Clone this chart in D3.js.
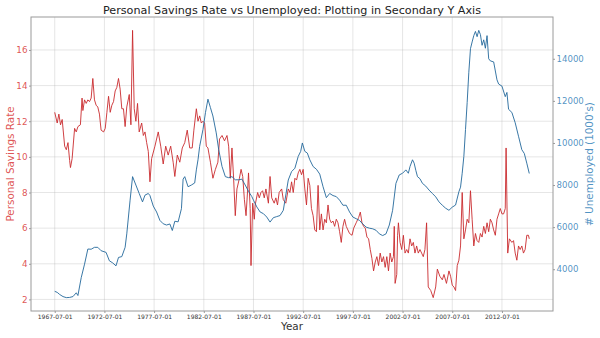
<!DOCTYPE html>
<html>
<head>
<meta charset="utf-8">
<script src="https://cdn.jsdelivr.net/npm/d3@7"></script>
<style>
  html, body { margin: 0; padding: 0; background: #fff; }
  svg { display: block; font-family: "DejaVu Sans", sans-serif; }
</style>
</head>
<body>
<svg id="chart" width="600" height="338"></svg>
<script>
// ---------------- data ----------------
const savingsDates = ["1967-07","1967-10","1967-12","1968-02","1968-04","1968-07","1968-09","1968-11","1969-01","1969-02","1969-04","1969-07","1969-09","1969-11","1970-02","1970-04","1970-05","1970-07","1970-09","1970-11","1971-01","1971-03","1971-05","1971-07","1971-09","1971-11","1972-01","1972-03","1972-06","1972-08","1972-10","1972-12","1973-02","1973-04","1973-06","1973-08","1973-10","1973-12","1974-02","1974-04","1974-06","1974-08","1974-10","1975-01","1975-03","1975-05","1975-07","1975-09","1975-11","1976-01","1976-04","1976-06","1976-08","1976-10","1976-12","1977-02","1977-04","1977-08","1977-12","1978-03","1978-06","1978-09","1978-12","1979-03","1979-06","1979-08","1979-11","1980-02","1980-05","1980-08","1980-11","1981-02","1981-05","1981-07","1981-10","1981-12","1982-02","1982-04","1982-06","1982-08","1982-10","1982-12","1983-03","1983-06","1983-09","1983-12","1984-02","1984-05","1984-08","1984-11","1985-01","1985-03","1985-05","1985-07","1985-09","1985-11","1986-02","1986-04","1986-06","1986-08","1986-10","1986-12","1987-01","1987-03","1987-04","1987-06","1987-08","1987-09","1987-12","1988-02","1988-04","1988-06","1988-08","1988-10","1989-01","1989-03","1989-05","1989-08","1989-10","1989-12","1990-02","1990-05","1990-07","1990-10","1991-01","1991-03","1991-05","1991-07","1991-09","1991-11","1992-01","1992-03","1992-05","1992-07","1992-09","1992-11","1993-01","1993-03","1993-05","1993-07","1993-09","1993-11","1994-01","1994-03","1994-05","1994-07","1994-09","1994-11","1995-01","1995-03","1995-05","1995-07","1995-09","1995-11","1996-01","1996-03","1996-05","1996-07","1996-09","1996-11","1997-03","1997-06","1997-08","1997-11","1998-02","1998-04","1998-06","1998-08","1998-10","1998-12","1999-02","1999-04","1999-06","1999-08","1999-10","1999-12","2000-02","2000-04","2000-06","2000-08","2000-10","2000-12","2001-02","2001-04","2001-06","2001-08","2001-09","2001-10","2001-12","2002-01","2002-02","2002-04","2002-06","2002-08","2002-10","2002-12","2003-02","2003-04","2003-06","2003-08","2003-10","2003-12","2004-02","2004-04","2004-06","2004-08","2004-10","2004-12","2005-02","2005-05","2005-08","2005-11","2006-01","2006-04","2006-07","2006-09","2006-12","2007-03","2007-05","2007-07","2007-09","2007-11","2008-01","2008-03","2008-05","2008-07","2008-09","2008-11","2009-01","2009-03","2009-05","2009-07","2009-09","2009-11","2010-01","2010-03","2010-05","2010-07","2010-09","2010-11","2011-01","2011-03","2011-05","2011-07","2011-09","2011-11","2012-01","2012-03","2012-05","2012-07","2012-09","2012-11","2012-12","2013-02","2013-04","2013-07","2013-09","2013-11","2014-01","2014-03","2014-05","2014-07","2014-09","2014-11","2015-01","2015-03","2015-04"];
const savingsRate = [12.5,11.9,12.4,11.8,12.1,10.6,10.4,10.8,9.8,9.4,9.9,11.6,11.4,11.7,11.8,13.3,12.6,13.2,13.0,13.2,13.1,13.3,14.4,13.2,12.9,12.8,12.4,11.5,11.4,11.6,12.5,13.4,12.5,12.9,13.1,13.7,13.9,14.4,13.8,12.7,12.7,11.7,12.8,13.5,11.8,17.1,12.7,12.0,13.0,11.4,11.9,11.2,11.4,10.8,10.3,8.6,9.9,10.6,11.4,10.6,9.6,10.6,10.1,10.6,9.7,8.9,10.1,9.7,10.5,10.8,11.5,10.5,10.5,11.5,12.7,12.0,12.3,11.9,12.0,11.9,10.6,10.5,9.7,8.8,9.3,9.7,11.0,11.2,10.9,11.2,10.6,8.8,10.5,8.8,6.7,8.2,8.8,9.3,8.9,7.6,6.7,8.2,9.1,7.1,3.9,7.4,6.5,7.3,8.0,7.7,8.0,8.1,7.7,8.2,7.4,8.9,7.7,7.4,7.7,7.3,8.0,8.2,7.6,7.4,8.2,8.0,8.6,8.0,8.8,8.7,9.1,9.3,9.0,9.3,8.2,7.3,8.8,8.4,7.1,6.7,5.9,5.8,8.4,5.9,6.8,5.9,6.5,6.3,7.3,6.5,6.3,6.4,6.1,6.5,6.3,5.8,5.2,6.1,6.5,6.1,5.7,5.6,6.0,6.3,6.6,6.9,6.3,6.1,6.0,5.5,5.4,4.8,4.3,3.6,4.1,4.4,3.9,4.6,4.1,4.4,3.8,4.4,3.6,4.6,4.1,4.4,6.1,2.9,3.4,5.6,6.3,5.2,4.8,5.6,4.6,4.8,4.6,5.4,5.0,5.2,4.6,5.0,4.6,4.8,4.6,4.4,4.8,6.3,2.7,2.5,2.1,2.7,3.7,3.3,3.1,3.4,2.9,3.6,3.3,2.8,2.7,2.5,3.9,4.2,5.0,8.0,5.4,5.9,6.5,6.3,8.1,6.5,5.0,5.7,5.3,5.2,5.7,5.5,6.1,5.7,6.3,5.8,6.5,6.3,5.9,5.6,6.5,6.8,7.1,6.8,6.8,7.1,10.5,4.6,5.4,5.2,5.3,4.6,4.2,5.0,4.8,5.0,4.6,4.8,5.6,5.6,5.4];

const unemployDates = ["1967-07","1967-10","1968-01","1968-05","1968-09","1969-01","1969-05","1969-09","1969-11","1970-03","1970-07","1970-11","1971-03","1971-07","1971-11","1972-03","1972-09","1973-01","1973-05","1973-09","1973-12","1974-04","1974-08","1974-10","1975-02","1975-05","1975-09","1976-01","1976-05","1976-08","1976-12","1977-02","1977-06","1977-10","1978-02","1978-06","1978-10","1979-02","1979-05","1979-08","1979-12","1980-04","1980-06","1980-08","1980-12","1981-04","1981-08","1981-10","1981-12","1982-02","1982-06","1982-09","1982-12","1983-03","1983-06","1983-10","1984-01","1984-05","1984-09","1985-01","1985-05","1985-09","1986-01","1986-05","1986-09","1987-01","1987-05","1987-07","1987-11","1988-03","1988-07","1988-11","1989-03","1989-07","1989-11","1990-03","1990-07","1990-09","1991-01","1991-05","1991-09","1992-01","1992-04","1992-06","1992-09","1992-12","1993-03","1993-07","1993-11","1994-03","1994-07","1994-11","1995-03","1995-07","1995-11","1996-03","1996-07","1996-11","1997-03","1997-07","1997-11","1998-03","1998-07","1998-11","1999-03","1999-07","1999-11","2000-03","2000-07","2000-11","2001-03","2001-07","2001-11","2002-03","2002-07","2002-11","2003-02","2003-04","2003-07","2003-09","2003-11","2004-01","2004-04","2004-07","2004-11","2005-03","2005-07","2005-11","2006-03","2006-07","2006-11","2007-03","2007-07","2007-11","2008-03","2008-05","2008-07","2008-09","2008-11","2009-01","2009-03","2009-05","2009-07","2009-09","2009-11","2010-01","2010-03","2010-05","2010-07","2010-09","2010-11","2011-01","2011-03","2011-05","2011-09","2012-01","2012-03","2012-07","2012-11","2013-01","2013-03","2013-07","2013-11","2014-03","2014-07","2014-10","2015-01","2015-04"];
const unemployed = [2950,2900,2800,2700,2650,2660,2700,2880,2750,3600,4240,4960,4950,5040,5040,4880,4800,4400,4300,4160,4560,4600,5040,5680,7280,8400,8000,7600,7200,7520,7600,7500,7000,6720,6320,6160,6100,6150,5840,6280,6250,6880,8280,8400,7920,8000,8100,8720,9200,9840,10640,11440,12080,11680,11280,10480,9680,8880,8400,8350,8400,8250,8250,8280,8000,7700,7450,7280,6960,6720,6640,6480,6240,6450,6500,6550,6800,7280,8240,8640,8800,9360,9600,10000,9600,9520,9200,8880,8750,8520,7920,7400,7600,7500,7450,7280,7040,7040,6720,6480,6400,6320,6150,6000,5950,5920,5850,5680,5600,5680,6100,6800,8080,8480,8560,8720,8560,8880,9200,9040,8700,8400,8300,8080,7950,7760,7600,7440,7200,7040,6900,6800,6950,7050,7680,7900,8560,9360,10640,11920,13360,14480,14800,15100,15300,15050,15350,15150,14640,14900,14500,15100,14000,13900,13850,13000,12800,12700,12200,12400,11600,11450,10960,10320,9680,9500,9040,8550];

const xTickLabels = ["1967-07-01","1972-07-01","1977-07-01","1982-07-01","1987-07-01","1992-07-01","1997-07-01","2002-07-01","2007-07-01","2012-07-01"];
const leftTicks = [2,4,6,8,10,12,14,16];
const rightTicks = [4000,6000,8000,10000,12000,14000];
const totalMonths = 574;  // 1967-07 .. 2015-04, one row per month

const titleText = "Personal Savings Rate vs Unemployed: Plotting in Secondary Y Axis";
const xLabelText = "Year";
const leftLabelText = "Personal Savings Rate";
const rightLabelText = "# Unemployed (1000's)";

// ---------------- layout ----------------
const RED = "#d62728", BLUE = "#1f77b4";
const LINE_RED = "#c92a2e", LINE_BLUE = "#23689b";
const plot = { left: 31, right: 553, top: 17, bottom: 311 };

const monthIndex = s => {
  const [y, m] = s.split("-").map(Number);
  return (y - 1967) * 12 + (m - 7);
};

const svg = d3.select("#chart");

// matplotlib-like 5% margins
const n = totalMonths - 1;
const x = d3.scaleLinear().domain([-0.05 * n, n * 1.05]).range([plot.left, plot.right]);
const yMin1 = d3.min(savingsRate), yMax1 = d3.max(savingsRate);
const yL = d3.scaleLinear()
  .domain([yMin1 - 0.05 * (yMax1 - yMin1), yMax1 + 0.05 * (yMax1 - yMin1)])
  .range([plot.bottom, plot.top]);
const yMin2 = d3.min(unemployed), yMax2 = d3.max(unemployed);
const yR = d3.scaleLinear()
  .domain([yMin2 - 0.05 * (yMax2 - yMin2), yMax2 + 0.05 * (yMax2 - yMin2)])
  .range([plot.bottom, plot.top]);

const xTickVals = xTickLabels.map(s => monthIndex(s.slice(0, 7)));

// grid
const grid = svg.append("g").attr("stroke", "#b0b0b0").attr("stroke-opacity", 0.4).attr("stroke-width", 0.8);
grid.selectAll("line.v").data(xTickVals).join("line")
  .attr("x1", d => x(d)).attr("x2", d => x(d))
  .attr("y1", plot.top).attr("y2", plot.bottom);
grid.selectAll("line.h").data(leftTicks).join("line")
  .attr("x1", plot.left).attr("x2", plot.right)
  .attr("y1", d => yL(d)).attr("y2", d => yL(d));

// lines
const clip = svg.append("clipPath").attr("id", "clip").append("rect")
  .attr("x", plot.left).attr("y", plot.top)
  .attr("width", plot.right - plot.left).attr("height", plot.bottom - plot.top);

const savingsData = savingsDates.map((d, i) => ({ t: monthIndex(d), v: savingsRate[i] }));
const unemployData = unemployDates.map((d, i) => ({ t: monthIndex(d), v: unemployed[i] }));

svg.append("path").datum(savingsData)
  .attr("clip-path", "url(#clip)")
  .attr("fill", "none").attr("stroke", LINE_RED).attr("stroke-width", 0.9)
  .attr("stroke-linejoin", "round")
  .attr("d", d3.line().x(d => x(d.t)).y(d => yL(d.v)));

svg.append("path").datum(unemployData)
  .attr("clip-path", "url(#clip)")
  .attr("fill", "none").attr("stroke", LINE_BLUE).attr("stroke-width", 0.9)
  .attr("stroke-linejoin", "round")
  .attr("d", d3.line().x(d => x(d.t)).y(d => yR(d.v)));

// frame
svg.append("rect")
  .attr("x", plot.left).attr("y", plot.top)
  .attr("width", plot.right - plot.left).attr("height", plot.bottom - plot.top)
  .attr("fill", "none").attr("stroke", "#9a9a9a").attr("stroke-width", 1);

// axes
const xAxis = d3.axisBottom(x).tickValues(xTickVals)
  .tickFormat((d, i) => xTickLabels[i]).tickSizeInner(2).tickSizeOuter(0).tickPadding(1.5);
const gx = svg.append("g").attr("transform", `translate(0,${plot.bottom})`).call(xAxis);
gx.select(".domain").remove();
gx.selectAll(".tick line").attr("stroke", "#9a9a9a");
gx.selectAll(".tick text").attr("font-size", "6px").attr("fill", "#333")
  .attr("font-family", "DejaVu Sans");

const lAxis = d3.axisLeft(yL).tickValues(leftTicks).tickFormat(d3.format("d"))
  .tickSizeInner(2).tickSizeOuter(0).tickPadding(1.5);
const gl = svg.append("g").attr("transform", `translate(${plot.left},0)`).call(lAxis);
gl.select(".domain").remove();
gl.selectAll(".tick line").attr("stroke", "#9a9a9a");
gl.selectAll(".tick text").attr("font-size", "8.8px").attr("fill", RED).attr("fill-opacity", 0.8)
  .attr("font-family", "DejaVu Sans");

const rAxis = d3.axisRight(yR).tickValues(rightTicks).tickFormat(d3.format("d"))
  .tickSizeInner(2).tickSizeOuter(0).tickPadding(1.5);
const gr = svg.append("g").attr("transform", `translate(${plot.right},0)`).call(rAxis);
gr.select(".domain").remove();
gr.selectAll(".tick line").attr("stroke", "#9a9a9a");
gr.selectAll(".tick text").attr("font-size", "8.6px").attr("fill", BLUE).attr("fill-opacity", 0.8)
  .attr("font-family", "DejaVu Sans");

// labels
svg.append("text").attr("x", (plot.left + plot.right) / 2).attr("y", 14)
  .attr("text-anchor", "middle").attr("font-size", "11.2px").attr("fill", "#222")
  .text(titleText);

svg.append("text").attr("x", (plot.left + plot.right) / 2).attr("y", 330)
  .attr("text-anchor", "middle").attr("font-size", "10.4px").attr("fill", "#333")
  .text(xLabelText);

svg.append("text")
  .attr("transform", `translate(14,${(plot.top + plot.bottom) / 2}) rotate(-90)`)
  .attr("text-anchor", "middle").attr("font-size", "10.4px").attr("fill", RED).attr("fill-opacity", 0.8)
  .text(leftLabelText);

svg.append("text")
  .attr("transform", `translate(592.5,${(plot.top + plot.bottom) / 2}) rotate(-90)`)
  .attr("text-anchor", "middle").attr("font-size", "10.4px").attr("fill", BLUE).attr("fill-opacity", 0.8)
  .text(rightLabelText);
</script>
</body>
</html>
